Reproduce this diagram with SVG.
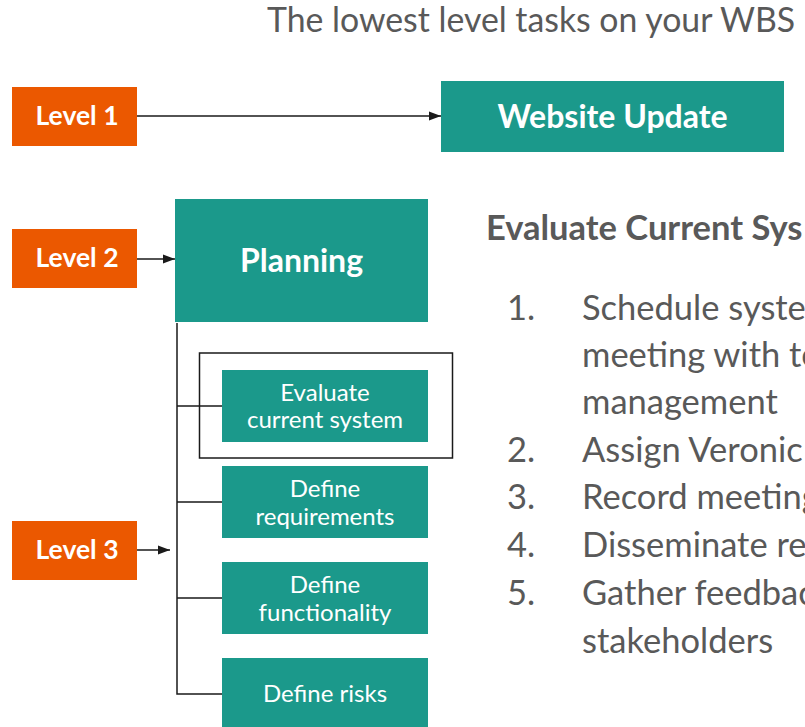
<svg xmlns="http://www.w3.org/2000/svg" width="805" height="727" viewBox="0 0 805 727">
<defs>
<style>
.teal{fill:#1B998B}
.orange{fill:#EB5800}
.lbl{font-family:Lato,"Liberation Sans",sans-serif;font-weight:bold;fill:#fff;text-anchor:middle;font-size:26.5px}
.big{font-family:Lato,"Liberation Sans",sans-serif;font-weight:bold;fill:#fff;text-anchor:middle;font-size:32px}
.sm{font-family:Lato,"Liberation Sans",sans-serif;fill:#fff;text-anchor:middle;font-size:24px}
.gray{font-family:Lato,"Liberation Sans",sans-serif;fill:#595959;font-size:34.5px}
.title{font-family:Lato,"Liberation Sans",sans-serif;fill:#595959;font-size:33.8px}
.head{font-family:Lato,"Liberation Sans",sans-serif;fill:#595959;font-size:34.5px;font-weight:bold}
.conn{stroke:#1a1a1a;stroke-width:1.5;fill:none}
</style>
<marker id="arr" viewBox="0 0 12 10" refX="12" refY="5" markerWidth="12" markerHeight="10" markerUnits="userSpaceOnUse" orient="auto">
<path d="M0,0.5 L12,5 L0,9.5 z" fill="#1a1a1a"/>
</marker>
</defs>
<rect width="805" height="727" fill="#fff"/>
<text class="title" x="267" y="32">The lowest level tasks on your WBS</text>

<g id="connectors">
<line class="conn" x1="137" y1="116" x2="441" y2="116" marker-end="url(#arr)"/>
<line class="conn" x1="137" y1="259" x2="175" y2="259" marker-end="url(#arr)"/>
<line class="conn" x1="137" y1="550" x2="170" y2="550" marker-end="url(#arr)"/>
<path class="conn" d="M177,323 V694 H222 M177,406 H222 M177,502 H222 M177,598 H222"/>
</g>

<g id="level1"><rect class="orange" x="12" y="87" width="125" height="59"/><text class="lbl" x="77" y="125">Level 1</text></g>
<g id="level2"><rect class="orange" x="12" y="229" width="125" height="59"/><text class="lbl" x="77" y="267">Level 2</text></g>
<g id="level3"><rect class="orange" x="12" y="521" width="125" height="59"/><text class="lbl" x="77" y="559">Level 3</text></g>

<g id="website-update"><rect class="teal" x="441" y="81" width="343" height="71"/><text class="big" x="612.5" y="128">Website Update</text></g>
<g id="planning"><rect class="teal" x="175" y="199" width="253" height="123"/><text class="big" x="301.5" y="272">Planning</text></g>

<g id="highlight"><rect x="199.5" y="353" width="253" height="105" fill="none" stroke="#1a1a1a" stroke-width="1.5"/></g>
<g id="evaluate"><rect class="teal" x="222" y="370" width="206" height="72"/><text class="sm" x="325" y="401">Evaluate</text><text class="sm" x="325" y="428">current system</text></g>
<g id="requirements"><rect class="teal" x="222" y="466" width="206" height="72"/><text class="sm" x="325" y="497">Define</text><text class="sm" x="325" y="525">requirements</text></g>
<g id="functionality"><rect class="teal" x="222" y="562" width="206" height="72"/><text class="sm" x="325" y="593">Define</text><text class="sm" x="325" y="621">functionality</text></g>
<g id="risks"><rect class="teal" x="222" y="658" width="206" height="69"/><text class="sm" x="325" y="702">Define risks</text></g>

<g id="detail">
<text class="head" x="486" y="240">Evaluate Current Sys</text>
<text class="gray" x="507" y="320">1.</text><text class="gray" x="582" y="320">Schedule syste</text>
<text class="gray" x="582" y="367">meeting with te</text>
<text class="gray" x="582" y="414">management</text>
<text class="gray" x="507" y="462">2.</text><text class="gray" x="582" y="462">Assign Veronic</text>
<text class="gray" x="507" y="509">3.</text><text class="gray" x="582" y="509">Record meeting</text>
<text class="gray" x="507" y="557">4.</text><text class="gray" x="582" y="557">Disseminate re</text>
<text class="gray" x="507" y="605">5.</text><text class="gray" x="582" y="605">Gather feedbac</text>
<text class="gray" x="582" y="653">stakeholders</text>
</g>
</svg>
